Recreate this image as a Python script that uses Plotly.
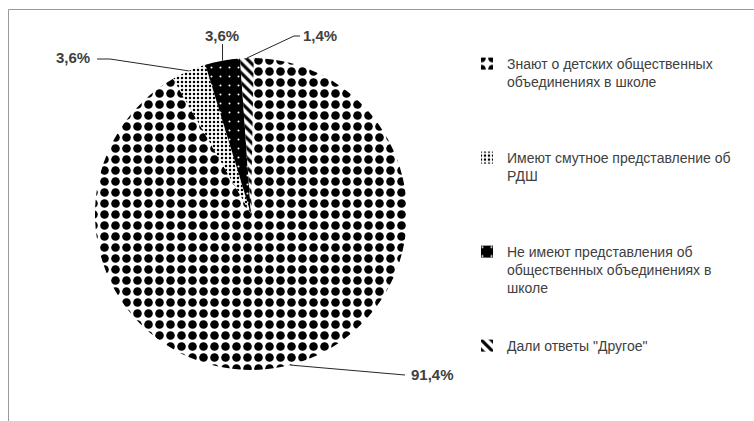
import math
import plotly.graph_objects as go

# Survey answers (percent of respondents)
categories = [
    "Знают о детских общественных<br>объединениях в школе",
    "Имеют смутное представление об<br>РДШ",
    "Не имеют представления об<br>общественных объединениях в<br>школе",
    'Дали ответы "Другое"',
]
shares = [91.4, 3.6, 3.6, 1.4]

# Fill patterns for each slice
pattern_shapes = [".", ".", ".", "\\"]
pattern_fg = ["#000000", "#000000", "#ffffff", "#000000"]
pattern_bg = ["#ffffff", "#ffffff", "#000000", "#ffffff"]
pattern_size = [11, 4, 9, 7]
pattern_solidity = [0.48, 0.3, 0.04, 0.45]

W, H = 754, 421
CX, CY, R = 251, 214, 156          # pie centre and radius, px
ROTATION = 1                       # start angle of the first slice, deg clockwise
TEXT = "#404040"
LEGEND_LINES = 5                   # every legend entry occupies this many lines


def px(x, y):
    return x / W, 1 - y / H


def pct(v):
    return f"{v:.1f}%".replace(".", ",")


legend_labels = []
for lab in categories:
    n = lab.count("<br>") + 1
    pad = max(0, LEGEND_LINES - n) if lab is not categories[-1] else 0
    legend_labels.append(lab + "<br>\u00a0" * pad)

fig = go.Figure(
    go.Pie(
        labels=legend_labels,
        values=shares,
        sort=False,
        direction="clockwise",
        rotation=ROTATION,
        textinfo="none",
        hoverinfo="skip",
        marker=dict(
            colors=pattern_bg,
            line=dict(width=0),
            pattern=dict(
                shape=pattern_shapes,
                fgcolor=pattern_fg,
                bgcolor=pattern_bg,
                size=pattern_size,
                solidity=pattern_solidity,
                fillmode="replace",
            ),
        ),
        domain=dict(
            x=[(CX - R) / W, (CX + R) / W],
            y=[1 - (CY + R) / H, 1 - (CY - R) / H],
        ),
    )
)

# Slice mid-angles -> edge anchor points for the leader lines
total = sum(shares)
anchors = []
acc = ROTATION
for v in shares:
    a = math.radians(acc + 360 * v / total / 2)
    anchors.append((CX + R * math.sin(a), CY - R * math.cos(a)))
    acc += 360 * v / total

# Leader line bends and label centres, px
leader_paths = [
    [(405, 375)],
    [(110, 59), (97, 59)],
    [(None, 44)],
    [(294, 36), (300, 36)],
]
label_pos = [(432, 374), (73, 57), (222, 35), (320, 35)]

shapes = []
annotations = []
for i, v in enumerate(shares):
    pts = [anchors[i]]
    for bx, by in leader_paths[i]:
        pts.append((anchors[i][0] if bx is None else bx, by))
    for (x0, y0), (x1, y1) in zip(pts[:-1], pts[1:]):
        a0, b0 = px(x0, y0)
        a1, b1 = px(x1, y1)
        shapes.append(dict(type="line", xref="paper", yref="paper",
                           x0=a0, y0=b0, x1=a1, y1=b1,
                           line=dict(color="#262626", width=1)))
    lx, ly = label_pos[i]
    ax, ay = px(lx, ly)
    annotations.append(dict(x=ax, y=ay, xref="paper", yref="paper",
                            text=pct(v), showarrow=False,
                            xanchor="center", yanchor="middle",
                            font=dict(family="Liberation Sans", size=15,
                                      color=TEXT, weight="bold")))

# chart frame
shapes.append(dict(type="rect", xref="paper", yref="paper",
                   x0=8.5 / W, y0=-0.02, x1=1.02, y1=1 - 9.5 / H,
                   line=dict(color="#9a9a9a", width=1)))

fig.update_layout(
    width=W, height=H,
    margin=dict(l=0, r=0, t=0, b=0),
    paper_bgcolor="white",
    plot_bgcolor="white",
    showlegend=True,
    legend=dict(
        x=467 / W, xanchor="left",
        y=1 - 48 / H, yanchor="top",
        valign="top",
        font=dict(family="Liberation Sans", size=14, color=TEXT),
        bgcolor="rgba(0,0,0,0)",
        traceorder="normal",
    ),
    shapes=shapes,
    annotations=annotations,
)

fig.write_html("out.html")
